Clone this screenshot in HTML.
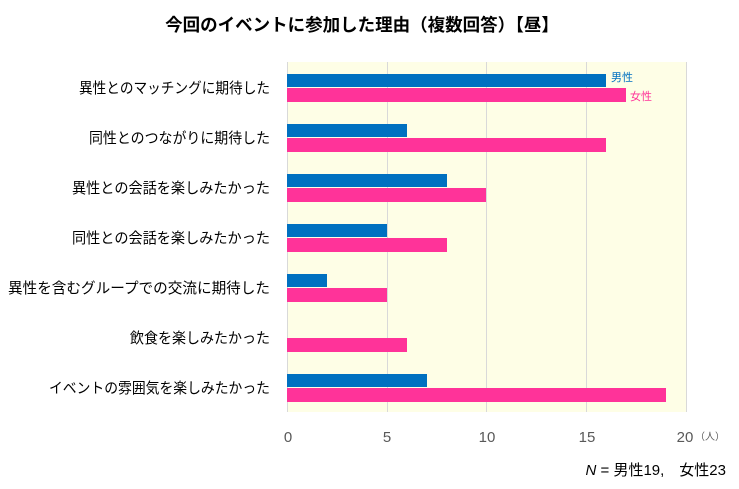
<!DOCTYPE html>
<html><head><meta charset="utf-8"><style>
body{margin:0;width:739px;height:484px;background:#fff;overflow:hidden;font-family:"Liberation Sans","Noto Sans CJK JP",sans-serif}
</style></head><body>
<svg width="739" height="484" xmlns="http://www.w3.org/2000/svg" style="font-family:'Liberation Sans','Noto Sans CJK JP',sans-serif">
<text x="362" y="31" text-anchor="middle" font-size="17.5" font-weight="bold" fill="#000">今回のイベントに参加した理由（複数回答）【昼】</text>
<rect x="287" y="62" width="399" height="350" fill="#fefee6"/>
<g stroke="#d9d9d9" stroke-width="1">
<line x1="387.5" y1="62" x2="387.5" y2="412"/><line x1="486.5" y1="62" x2="486.5" y2="412"/><line x1="586.5" y1="62" x2="586.5" y2="412"/><line x1="686.5" y1="62" x2="686.5" y2="412"/><line x1="287.5" y1="62" x2="287.5" y2="412"/>
</g>
<g fill="#0070c0">
<rect x="287" y="74" width="319" height="13"/><rect x="287" y="124" width="120" height="13"/><rect x="287" y="174" width="160" height="13"/><rect x="287" y="224" width="100" height="13"/><rect x="287" y="274" width="40" height="13"/><rect x="287" y="374" width="140" height="13"/>
</g>
<g fill="#ff3399">
<rect x="287" y="88" width="339" height="14"/><rect x="287" y="138" width="319" height="14"/><rect x="287" y="188" width="199" height="14"/><rect x="287" y="238" width="160" height="14"/><rect x="287" y="288" width="100" height="14"/><rect x="287" y="338" width="120" height="14"/><rect x="287" y="388" width="379" height="14"/>
</g>
<text x="611" y="81" font-size="11" fill="#0070c0">男性</text>
<text x="630" y="100" font-size="11" fill="#ff3399">女性</text>
<g font-size="14.6" fill="#000" lengthAdjust="spacingAndGlyphs">
<text x="79" y="93" textLength="191" lengthAdjust="spacingAndGlyphs">異性とのマッチングに期待した</text>
<text x="89" y="143" textLength="181" lengthAdjust="spacingAndGlyphs">同性とのつながりに期待した</text>
<text x="72" y="193" textLength="198" lengthAdjust="spacingAndGlyphs">異性との会話を楽しみたかった</text>
<text x="72" y="243" textLength="198" lengthAdjust="spacingAndGlyphs">同性との会話を楽しみたかった</text>
<text x="8" y="293" textLength="262" lengthAdjust="spacingAndGlyphs">異性を含むグループでの交流に期待した</text>
<text x="130" y="343" textLength="140" lengthAdjust="spacingAndGlyphs">飲食を楽しみたかった</text>
<text x="49" y="393" textLength="221" lengthAdjust="spacingAndGlyphs">イベントの雰囲気を楽しみたかった</text>
</g>
<g font-size="15" fill="#595959" text-anchor="middle">
<text x="288" y="442">0</text><text x="387" y="442">5</text><text x="487" y="442">10</text><text x="587" y="442">15</text><text x="685" y="442">20</text>
</g>
<text x="695" y="440" font-size="10" fill="#595959">（人）</text>
<text x="726" y="475" font-size="15" fill="#000" text-anchor="end"><tspan font-style="italic">N</tspan> = 男性19,　女性23</text>
</svg>
</body></html>
